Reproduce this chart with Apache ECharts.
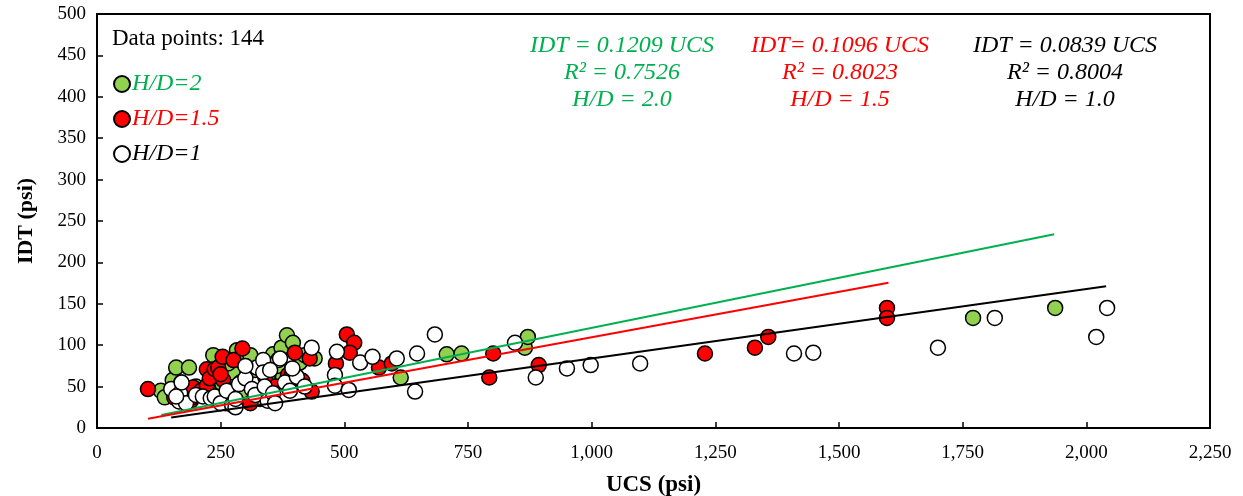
<!DOCTYPE html>
<html>
<head>
<meta charset="utf-8">
<script src="https://cdn.jsdelivr.net/npm/echarts@6/dist/echarts.min.js"></script>
<style>
  html, body { margin: 0; padding: 0; background: #fff; }
  #main { width: 1243px; height: 496px; }
</style>
</head>
<body>
<div id="main"></div>
<script>
// 数据点 [UCS, IDT]
const hd2 = [
  [129, 45], [137, 37], [153, 58], [160, 73], [186, 73], [170, 55], [200, 50], [215, 40],
  [235, 88], [240, 62], [250, 55], [260, 30], [274, 67], [283, 94], [300, 45], [320, 70],
  [330, 35], [345, 60], [356, 89], [373, 97], [384, 112], [396, 103], [410, 79], [440, 84],
  [376, 62], [225, 48], [290, 85], [265, 78], [310, 88], [365, 75], [420, 88], [185, 40],
  [614, 61], [707, 89], [737, 90], [865, 97], [871, 110], [1771, 133], [1937, 145]
]
const hd15 = [
  [103, 47], [156, 37], [190, 33], [192, 37], [194, 49], [210, 45], [222, 51], [222, 71],
  [228, 60], [238, 71], [240, 35], [245, 73], [254, 86], [255, 58], [265, 40], [276, 82],
  [290, 55], [294, 96], [310, 30], [330, 42], [360, 50], [386, 64], [394, 64], [400, 91],
  [430, 84], [434, 44], [270, 45], [340, 62], [250, 65], [415, 57],
  [505, 113], [520, 103], [511, 91], [483, 78], [570, 73], [596, 78], [801, 90], [793, 61],
  [893, 76], [1229, 90], [1330, 97], [1357, 110], [1597, 145], [1597, 133]
]
const hd1 = [
  [150, 47], [168, 42], [166, 32], [171, 55], [180, 30], [200, 40], [214, 38], [230, 36],
  [238, 38], [250, 30], [262, 45], [273, 28], [280, 25], [280, 35], [287, 53], [300, 60],
  [313, 47], [320, 40], [323, 73], [336, 82], [336, 67], [339, 50], [345, 33], [356, 42],
  [360, 30], [366, 82], [370, 84], [380, 55], [390, 45], [404, 62], [420, 50], [434, 97],
  [350, 70], [395, 72], [300, 75], [160, 38],
  [485, 92], [532, 79], [557, 86], [481, 64], [481, 51], [509, 46], [606, 84], [647, 90],
  [643, 44], [683, 113], [845, 103], [887, 61], [950, 72], [998, 76], [1098, 78], [1409, 90],
  [1448, 91], [1700, 97], [1815, 133], [2042, 145], [2020, 110]
]

// 趋势线 (过原点): 斜率与起止 UCS
const slopes = [0.1209, 0.1096, 0.0839]
const trendRange = [[130, 1935], [103, 1600], [150, 2040]]
const trendColors = ['#00B050', '#FF0000', '#000000']

const xTicks = ['0', '250', '500', '750', '1,000', '1,250', '1,500', '1,750', '2,000', '2,250']

const font = '"Liberation Serif", "Times New Roman", serif'

const trendSeries = slopes.map((k, i) => ({
  type: 'line',
  data: trendRange[i].map(x => [x, k * x]),
  symbol: 'none',
  silent: true,
  z: 5,
  lineStyle: { color: trendColors[i], width: 2 }
}))

const pointSeries = (name, data, color) => ({
  name: name,
  type: 'scatter',
  data: data,
  symbol: 'circle',
  symbolSize: 15,
  z: 3,
  itemStyle: { color: color, borderColor: '#000', borderWidth: 1.5, opacity: 1 }
})

const eqText = (x, text, color) => ({
  type: 'text', x: x, y: 32,
  style: {
    text: text, align: 'center', lineHeight: 27,
    font: 'italic 24px ' + font, fill: color
  }
})

const myChart = echarts.init(document.getElementById('main'))
myChart.setOption({
  animation: false,
  textStyle: { fontFamily: font },
  grid: {
    left: 97, right: 33, top: 14, bottom: 68,
    outerBoundsMode: 'none', containLabel: false,
    show: true, borderColor: '#000', borderWidth: 2, backgroundColor: 'transparent'
  },
  xAxis: {
    type: 'value', min: 0, max: 2250, interval: 250,
    name: 'UCS (psi)', nameLocation: 'middle', nameGap: 46,
    nameTextStyle: { fontFamily: font, fontSize: 23, fontWeight: 'bold', color: '#000' },
    axisLine: { lineStyle: { color: '#000', width: 2 } },
    axisTick: { inside: true, length: 6, lineStyle: { color: '#000', width: 1.5 } },
    axisLabel: {
      fontFamily: font, fontSize: 19, color: '#000', margin: 16,
      formatter: v => xTicks[Math.round(v / 250)]
    },
    splitLine: { show: false }
  },
  yAxis: {
    type: 'value', min: 0, max: 500, interval: 50,
    name: 'IDT (psi)', nameLocation: 'middle', nameGap: 60, nameRotate: 90,
    nameTextStyle: { fontFamily: font, fontSize: 22, fontWeight: 'bold', color: '#000' },
    axisLine: { lineStyle: { color: '#000', width: 2 } },
    axisTick: { inside: true, length: 6, lineStyle: { color: '#000', width: 1.5 } },
    axisLabel: { fontFamily: font, fontSize: 19, color: '#000', margin: 11 },
    splitLine: { show: false }
  },
  legend: {
    orient: 'vertical', left: 108, top: 67, itemGap: 11,
    itemWidth: 16, itemHeight: 16, icon: 'circle',
    data: [
      { name: 'H/D=2', textStyle: { color: '#00B050' } },
      { name: 'H/D=1.5', textStyle: { color: '#FF0000' } },
      { name: 'H/D=1', textStyle: { color: '#000' } }
    ],
    textStyle: { fontFamily: font, fontSize: 24, fontStyle: 'italic', padding: [0, 0, 0, -3] }
  },
  graphic: [
    { type: 'text', x: 112, y: 27, style: { text: 'Data points: 144', font: '23px ' + font, fill: '#000' } },
    eqText(622, 'IDT = 0.1209 UCS\nR² = 0.7526\nH/D = 2.0', '#00B050'),
    eqText(840, 'IDT= 0.1096 UCS\nR² = 0.8023\nH/D = 1.5', '#FF0000'),
    eqText(1065, 'IDT = 0.0839 UCS\nR² = 0.8004\nH/D = 1.0', '#000')
  ],
  series: [
    pointSeries('H/D=2', hd2, '#92D050'),
    pointSeries('H/D=1.5', hd15, '#FF0000'),
    pointSeries('H/D=1', hd1, '#FFFFFF'),
    ...trendSeries
  ]
})
</script>
</body>
</html>
